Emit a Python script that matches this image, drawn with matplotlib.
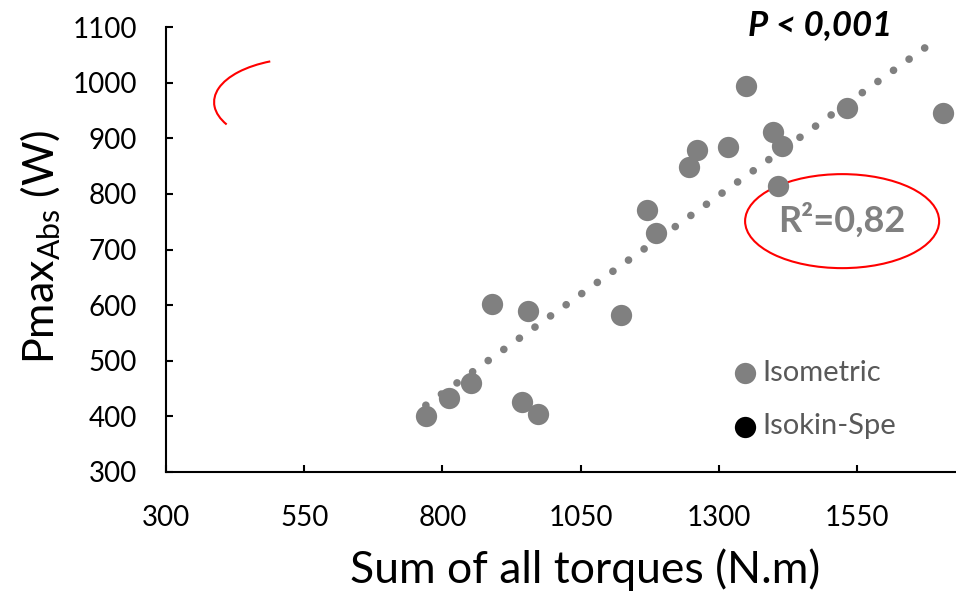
import numpy as np
import matplotlib
matplotlib.use("Agg")
import matplotlib.pyplot as plt
from matplotlib.patches import Ellipse, Arc

# valeurs
somme_couples = [770, 812, 852, 890, 955, 944, 973, 1123, 1170, 1186,
                 1246, 1261, 1317, 1349, 1398, 1414, 1407, 1532, 1706]
pmax_abs = [401, 433, 460, 602, 590, 426, 404, 582, 771, 730,
            849, 879, 885, 994, 911, 886, 814, 955, 946]
# série isocinétique : masquée sur la figure d'origine
isokin_x = []
isokin_y = []

# droite de tendance (extrémités lues)
tendance_x = [770, 1686]
tendance_y = [420, 1072]

x_ticks = [300, 550, 800, 1050, 1300, 1550]
y_ticks = [300, 400, 500, 600, 700, 800, 900, 1000, 1100]

plt.rcParams['font.family'] = ['Lato', 'DejaVu Sans']

fig = plt.figure(figsize=(9.56, 5.93), dpi=100)
ax = fig.add_axes([166/956, 1 - 472/593, 1 - 166/956, 445/593])

gris = '#808080'
ax.scatter(somme_couples, pmax_abs, s=235, color=gris, label='Isometric', zorder=3, linewidths=0)
ax.scatter(isokin_x, isokin_y, s=235, color='black', label='Isokin-Spe', zorder=3, linewidths=0)

ax.plot(tendance_x, tendance_y, color=gris, linewidth=5.5, linestyle=(0, (0.01, 2.5)),
        dash_capstyle='round', zorder=2)

ax.set_xlim(300, 1729)
ax.set_ylim(300, 1100)
ax.set_xticks(x_ticks)
ax.set_yticks(y_ticks)
ax.tick_params(direction='in', length=5, width=1.5, labelsize=20)
ax.tick_params(axis='x', pad=24)
ax.tick_params(axis='y', pad=21)
for s in ['top', 'right']:
    ax.spines[s].set_visible(False)
for s in ['left', 'bottom']:
    ax.spines[s].set_linewidth(1.5)

ax.set_xlabel('Sum of all torques (N.m)', fontsize=32)
ax.xaxis.set_label_coords(0.530, -0.171)
ax.set_ylabel('Pmax$_{\\mathregular{Abs}}$ (W)', fontsize=31)
ax.yaxis.set_label_coords(-0.130, 0.506)

# R² dans une ellipse rouge
ax.text(1523, 753, 'R²=0,82', fontsize=26, fontweight='bold',
        color=gris, ha='center', va='center')
ax.add_patch(Ellipse((1523, 751), 351, 169, fill=False, edgecolor='red', linewidth=1.5))
ax.add_patch(Arc((550, 965), 326, 158, theta1=130, theta2=196, edgecolor='red', linewidth=1.5))

fig.text(820 / 956, 1 - 25 / 593, 'P < 0,001', fontsize=25, fontweight='bold',
         fontstyle='italic', ha='center', va='center')

leg = ax.legend(loc='center left', bbox_to_anchor=(0.714, 0.163), frameon=False,
                fontsize=21, handlelength=1.0, handletextpad=0.12, labelspacing=0.95,
                borderpad=0, borderaxespad=0, scatterpoints=1)
for t in leg.get_texts():
    t.set_color('#595959')

fig.savefig('out.png', dpi=100)
